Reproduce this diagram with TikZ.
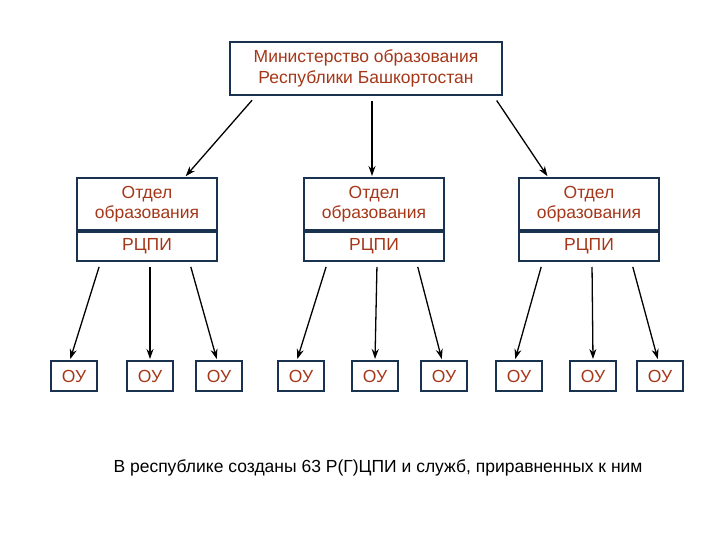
\documentclass[tikz,border=0pt]{standalone}
\usepackage{fontspec}
\setmainfont{Liberation Sans}
\usetikzlibrary{calc,arrows.meta}
\definecolor{bd}{RGB}{25,50,80}
\definecolor{tx}{RGB}{165,55,25}
\begin{document}
\begin{tikzpicture}[x=1pt,y=-1pt,
 box/.style={draw=bd,line width=2pt,text=tx,inner sep=0pt,align=center,font=\fontsize{17.5}{21}\selectfont},
 arr/.style={-{Stealth[length=10pt,width=7pt]},line width=1.3pt,shorten <=3pt,shorten >=1pt}]
\useasboundingbox (0,0) rectangle (720,540);
\node[box,minimum width=272,minimum height=53] (top) at (366,68.5) {Министерство  образования\\Республики Башкортостан};
\foreach \i/\cx in {1/147,2/374,3/589}{
 \node[box,minimum width=140,minimum height=83] (d\i) at (\cx,219.5) {};
 \draw[bd,line width=3.5pt] ($(d\i.west)+(0,11.5)$) -- ($(d\i.east)+(0,11.5)$);
 \node[text=tx,font=\fontsize{17.5}{20}\selectfont,align=center] (t\i) at (\cx,204) {Отдел\\образования};
 \node[text=tx,font=\fontsize{17.5}{20}\selectfont] (r\i) at (\cx,246) {РЦПИ};
}
\foreach \j/\cx in {1/74,2/150,3/219,4/301,5/375,6/444,7/519,8/593,9/660}{
 \node[box,minimum width=46,minimum height=30] (o\j) at (\cx,376) {ОУ};
}
\draw[arr] ($(top.south west)+(25,2)$) -- ($(d1.north)+(38,0)$);
\draw[arr] ($(top.south)+(6,2)$) -- ($(d2.north)+(-2,0)$);
\draw[arr] ($(top.south east)+(-8,2)$) -- ($(d3.north)+(-41,0)$);
\foreach \i/\a/\b/\c in {1/1/2/3,2/4/5/6,3/7/8/9}{
 \draw[arr] ($(d\i.south)+(-47,2)$) -- ($(o\a.north)+(-4,0)$);
 \draw[arr] ($(d\i.south)+(3,2)$) -- (o\b.north);
 \draw[arr] ($(d\i.south)+(43,2)$) -- ($(o\c.north)+(-2,0)$);
}
\node[font=\fontsize{17.5}{20}\selectfont] (cap) at (378,468) {В республике созданы 63 Р(Г)ЦПИ и служб, приравненных к ним};
\end{tikzpicture}
\end{document}
